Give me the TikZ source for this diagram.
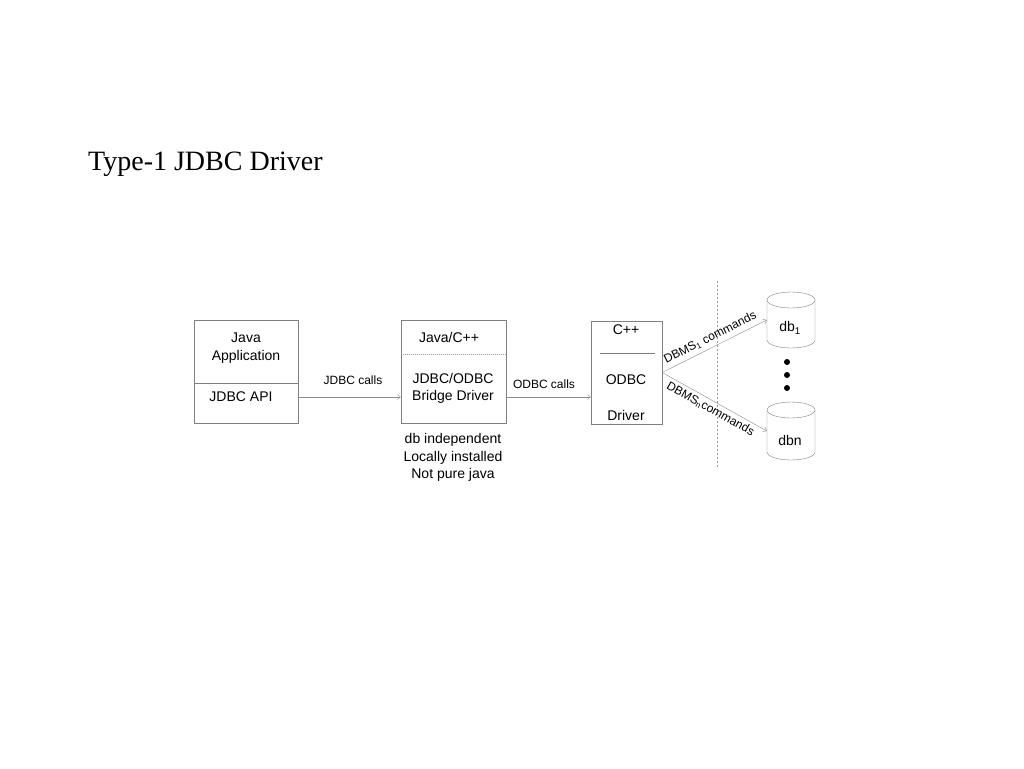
\documentclass[tikz,border=0pt]{standalone}
\usepackage{fontspec}
\setmainfont{Liberation Sans}
\newfontfamily\titlefont{Liberation Serif}
\usetikzlibrary{arrows.meta}

\begin{document}
\begin{tikzpicture}
[
x=1pt, y=-1pt,
Title/.style={anchor=base west, inner sep=0pt, font=\titlefont\fontsize{28}{34}\selectfont},
Layer/.style={rectangle, draw=black!50, thin, inner sep=0pt},
Text/.style={align=center, inner sep=0pt, font=\fontsize{14}{17.5}\selectfont},
Small/.style={inner sep=0pt, font=\fontsize{12}{14}\selectfont},
Divider/.style={draw=black!50, thin},
Dotline/.style={draw=black!40, thin, dash pattern=on 1pt off 1pt},
Call/.style={-{Straight Barb[length=3pt,width=5pt]}, draw=black!45, thin},
Database/.style={rectangle, inner sep=0pt, minimum width=48pt},
Dbline/.style={draw=black!50, thin},
Dot/.style={circle, fill=black, inner sep=0pt, minimum size=6pt},
Boundary/.style={draw=black!40, thin, dash pattern=on 2pt off 2pt}
]

\useasboundingbox (0,0) rectangle (1024,768);

\node[Title] (title) at (88,170) {Type-1 JDBC Driver};

\node[Layer, minimum width=104pt, minimum height=103pt] (app) at (246,371.5) {};
\node[Layer, minimum width=105pt, minimum height=103pt] (bridge) at (453.5,371.5) {};
\node[Layer, minimum width=71pt, minimum height=103pt] (odbc) at (626.5,372.5) {};

\draw[Divider] (app.west |- 0,383) -- (app.east |- 0,383);
\draw[Dotline] (bridge.west |- 0,354) -- (bridge.east |- 0,354);
\draw[Divider] (600,353) -- (655,353);

\node[Text] (java) at (246,348) {Java\\Application};
\node[Text] (api) at (241,397) {JDBC API};
\node[Text] (lang) at (449,337) {Java/C++};
\node[Text] (jdbcodbc) at (453,388.5) {JDBC/ODBC\\Bridge Driver};
\node[Text] (props) at (453,457.5) {db independent\\Locally installed\\Not pure java};
\node[Text] (cpp) at (626,330) {C++};
\node[Text] (odbctext) at (626,380) {ODBC};
\node[Text] (driver) at (626,415) {Driver};

% calls between the layers
\coordinate (callline) at (0,397);
\draw[Call] (callline -| app.east) -- (callline -| bridge.west);
\draw[Call] (callline -| bridge.east) -- (callline -| odbc.west);
\node[Small] (jdbccalls) at (353,380) {JDBC calls};
\node[Small] (odbccalls) at (544,384) {ODBC calls};

% databases
\draw[Boundary] (717,281) -- (717,467);

\draw[Dbline] (791,300) ellipse (24 and 8);
\draw[Dbline] (767,300) -- (767,340) arc (180:0:24 and 8) -- (815,300);
\draw[Dbline] (791,410) ellipse (24 and 8);
\draw[Dbline] (767,410) -- (767,452) arc (180:0:24 and 8) -- (815,410);

\node[Database, minimum height=56pt] (db1) at (791,320) {};
\node[Database, minimum height=58pt] (dbn) at (791,431) {};
\node[Text] (db1label) at (790,328) {db\textsubscript{1}};
\node[Text] (dbnlabel) at (790,440) {dbn};
\node[Dot] (dot1) at (787,362) {};
\node[Dot] (dot2) at (787,375) {};
\node[Dot] (dot3) at (787,388) {};

\draw[Call] (odbc.east) -- (db1.west) node[Small, midway, above=4pt, sloped] {DBMS\textsubscript{1} commands};
\draw[Call] (odbc.east) -- (dbn.west) node[Small, midway, below=3pt, sloped] {DBMS\textsubscript{n}commands};
\end{tikzpicture}
\end{document}
